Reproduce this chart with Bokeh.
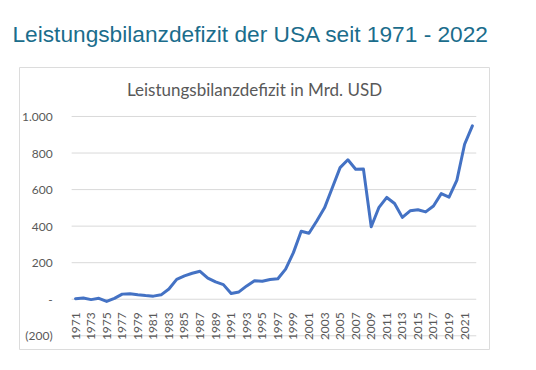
import math
from bokeh.plotting import figure
from bokeh.models import Range1d, FixedTicker, Label, ColumnDataSource
from bokeh.embed import file_html
from bokeh.resources import INLINE

# ---- data ----
years = list(range(1971, 2023))
deficit = [3, 7, -2, 5, -12, 5, 28, 30, 24, 20,
           17, 24, 56, 109, 128, 142, 153, 116, 95, 80,
           31, 40, 73, 101, 98, 108, 112, 165, 255, 372,
           361, 428, 500, 610, 720, 763, 711, 712, 397, 503,
           557, 524, 448, 484, 490, 478, 510, 578, 559, 650,
           848, 949]
y_ticks = [-200, 0, 200, 400, 600, 800, 1000]
y_tick_labels = ["(200)", "-", "200", "400", "600", "800", "1.000"]
x_ticks = list(range(1971, 2022, 2))

slide_title = "Leistungsbilanzdefizit der USA seit 1971 - 2022"
chart_title = "Leistungsbilanzdefizit in Mrd. USD"

FONT = "Lato"
GRID = "#d9d9d9"
LABEL = "#595959"

X0, X1 = 1963.8, 2024.2
p = figure(width=520, height=354, output_backend="svg", toolbar_location=None,
           x_range=Range1d(X0, X1), y_range=Range1d(-275, 1268),
           min_border_left=19, min_border_right=31, min_border_top=67,
           min_border_bottom=5)
p.background_fill_color = "white"
p.border_fill_color = "white"
p.outline_line_color = "#dcdcdc"
p.grid.visible = False

# slide title
p.title.text = slide_title
p.title.text_font = "Liberation Sans"
p.title.text_font_style = "normal"
p.title.text_font_size = "22.7px"
p.title.text_color = "#1b6d8c"
p.title.align = "left"
p.title.vertical_align = "top"
p.title.offset = -7
p.title.standoff = 37

# plot-area gridlines
x_lo = years[0] - 0.5
x_hi = years[-1] + 0.5
p.segment(x0=[x_lo] * len(y_ticks), x1=[x_hi] * len(y_ticks),
          y0=y_ticks, y1=y_ticks, line_color=GRID, line_width=1)

# data line
src = ColumnDataSource(dict(x=years, y=deficit))
p.line("x", "y", source=src, line_color="#4472c4", line_width=3,
       line_join="round", line_cap="round")

# y axis inside box
ya = p.yaxis[0]
ya.fixed_location = x_lo
ya.ticker = FixedTicker(ticks=y_ticks)
ya.major_label_overrides = {t: l for t, l in zip(y_ticks, y_tick_labels)}
ya.axis_line_color = None
ya.major_tick_line_color = None
ya.minor_tick_line_color = None
ya.major_label_standoff = 13
ya.major_label_text_font = FONT
ya.major_label_text_font_size = "12px"
ya.major_label_text_color = LABEL

# x axis at zero
xa = p.xaxis[0]
xa.fixed_location = 0
xa.ticker = FixedTicker(ticks=x_ticks)
xa.axis_line_color = None
xa.major_tick_line_color = None
xa.minor_tick_line_color = None
xa.major_label_orientation = math.pi / 2
xa.major_label_standoff = 7
xa.major_label_text_font = FONT
xa.major_label_text_font_size = "12px"
xa.major_label_text_color = LABEL

# chart title inside box
p.add_layout(Label(x=(X0 + X1) / 2, y=1150, text=chart_title,
                   text_align="center", text_baseline="middle",
                   text_font=FONT, text_font_size="17px", text_color="#595959"))

open("out.html", "w").write(file_html(p, INLINE))
